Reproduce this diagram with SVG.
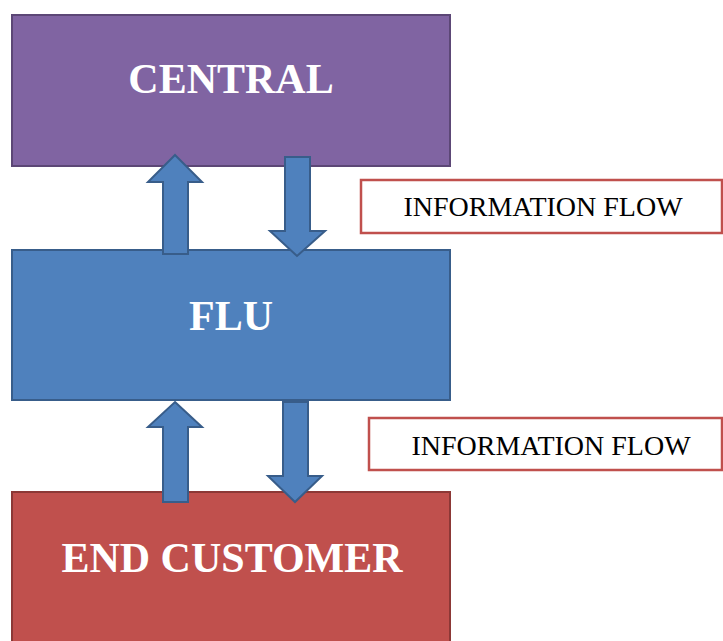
<svg xmlns="http://www.w3.org/2000/svg" width="723" height="641" viewBox="0 0 723 641">
<style>
.node-label{font-family:"Liberation Serif","Times New Roman",serif;font-weight:bold;font-size:42px;fill:#ffffff;text-anchor:middle}
.info-label{font-family:"Liberation Serif","Times New Roman",serif;font-size:28px;fill:#000000;text-anchor:middle}
.arrow{fill:#4F81BD;stroke:#385D8A;stroke-width:2;stroke-linejoin:miter}
.info-box{fill:#ffffff;stroke:#C0504D;stroke-width:2.5}
</style>
<rect width="723" height="641" fill="#ffffff"/>
<g id="central">
<rect x="12" y="15" width="438" height="151" fill="#8064A2" stroke="#5C4776" stroke-width="2"/>
<text class="node-label" x="231" y="93">CENTRAL</text>
</g>
<g id="flu">
<rect x="12" y="250" width="438" height="150" fill="#4F81BD" stroke="#385D8A" stroke-width="2"/>
<text class="node-label" x="231" y="330">FLU</text>
</g>
<g id="end-customer">
<rect x="12" y="492" width="438" height="160" fill="#C0504D" stroke="#8C3836" stroke-width="2"/>
<text class="node-label" x="232" y="572">END CUSTOMER</text>
</g>
<g id="connectors">
<polygon class="arrow" points="175,155 202,182 188,182 188,254 163,254 163,182 148,182"/>
<polygon class="arrow" points="285,157 310,157 310,231 325,231 297,256 270,231 285,231"/>
<polygon class="arrow" points="175,402 202,427 188,427 188,502 163,502 163,427 148,427"/>
<polygon class="arrow" points="283,402 308,402 308,476 322,476 295,502 268,476 283,476"/>
</g>
<g id="info-flow-1">
<rect class="info-box" x="361" y="180" width="361" height="53"/>
<text class="info-label" x="543" y="216">INFORMATION FLOW</text>
</g>
<g id="info-flow-2">
<rect class="info-box" x="369" y="418" width="353" height="52"/>
<text class="info-label" x="551" y="455">INFORMATION FLOW</text>
</g>
</svg>
